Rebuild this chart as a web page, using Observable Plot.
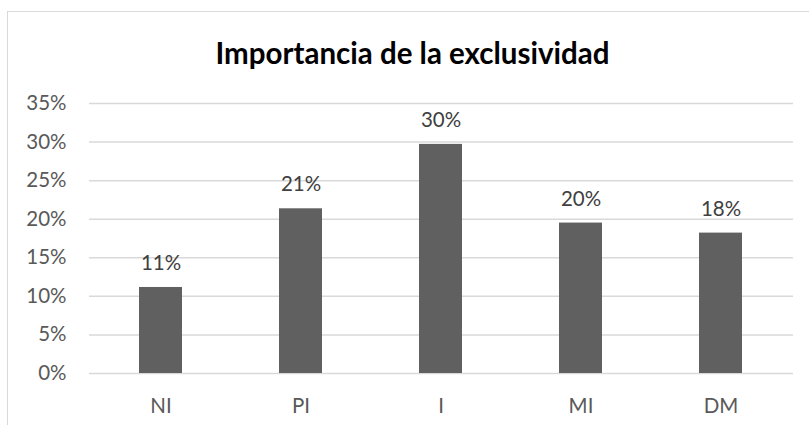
<!DOCTYPE html>
<html>
<head>
<meta charset="utf-8">
<script src="https://cdn.jsdelivr.net/npm/d3@7"></script>
<script src="https://cdn.jsdelivr.net/npm/@observablehq/plot@0.6"></script>
<style>
  html, body { margin: 0; padding: 0; background: #fff; overflow: hidden; }
  #wrap { position: relative; width: 809px; height: 425px; }
  #frame { position: absolute; left: 7px; top: 11px; width: 900px; height: 500px; border: 1px solid #d9d9d9; box-sizing: border-box; }
  #title { position: absolute; left: 0; width: 825px; top: 35px; text-align: center; font-family: Lato, sans-serif; font-weight: bold; font-size: 29.5px; color: #000; line-height: 36px; }
  #chart { position: absolute; left: 0; top: 0; }
</style>
</head>
<body>
<div id="wrap">
  <div id="frame"></div>
  <div id="title">Importancia de la exclusividad</div>
  <div id="chart"></div>
</div>
<script>
const categories = ["NI", "PI", "I", "MI", "DM"];
const values = [0.1115, 0.2135, 0.297, 0.195, 0.182];
const labels = ["11%", "21%", "30%", "20%", "18%"];
const yTicks = [0, 0.05, 0.10, 0.15, 0.20, 0.25, 0.30, 0.35];

const data = categories.map((c, i) => ({cat: c, value: values[i], label: labels[i]}));

const chart = Plot.plot({
  width: 809,
  height: 425,
  marginLeft: 89,
  marginRight: 16,
  marginTop: 103,
  marginBottom: 52,
  style: {fontFamily: "Lato, sans-serif", fontSize: "20.5px", background: "transparent", overflow: "visible"},
  x: {domain: categories, paddingInner: 0.69, paddingOuter: 0.345, label: null},
  y: {domain: [0, 0.35], label: null},
  marks: [
    Plot.gridY(yTicks, {stroke: "#d9d9d9", strokeOpacity: 1, strokeWidth: 1.5}),
    Plot.axisY(yTicks, {tickSize: 0, tickPadding: 23, tickFormat: d => Math.round(d * 100) + "%", fill: "#595959", label: null}),
    Plot.axisX({tickSize: 0, tickPadding: 25, fill: "#595959", label: null}),
    Plot.barY(data, {x: "cat", y: "value", fill: "#606060"}),
    Plot.text(data, {x: "cat", y: "value", text: "label", dy: -24, fill: "#404040", lineAnchor: "middle"})
  ]
});
document.getElementById("chart").appendChild(chart);
</script>
</body>
</html>
